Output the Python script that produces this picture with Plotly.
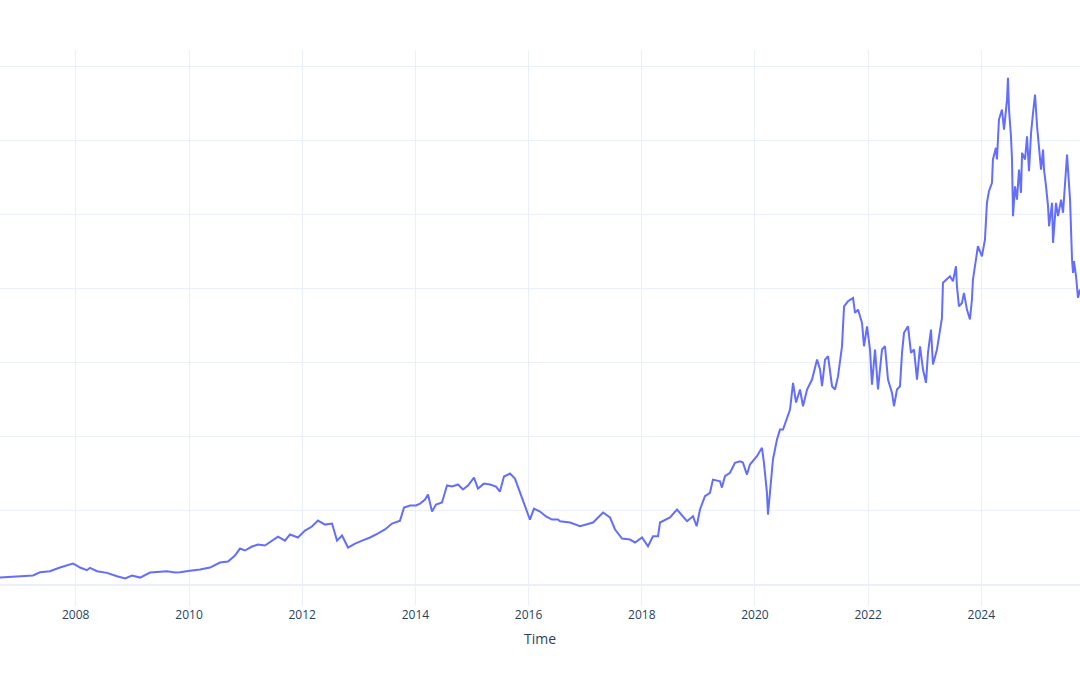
import pandas as pd
import plotly.graph_objects as go

# Time stamps as decimal years
years = [
    2006.661, 2006.926, 2007.244, 2007.368, 2007.544, 2007.721, 2007.845, 2007.951,
    2008.021, 2008.074, 2008.198, 2008.251, 2008.375, 2008.551, 2008.728, 2008.870,
    2008.993, 2009.135, 2009.311, 2009.488, 2009.612, 2009.753, 2009.841, 2010.018,
    2010.195, 2010.371, 2010.548, 2010.689, 2010.813, 2010.901, 2010.990, 2011.113,
    2011.219, 2011.343, 2011.467, 2011.573, 2011.696, 2011.785, 2011.926, 2012.050,
    2012.173, 2012.279, 2012.403, 2012.527, 2012.615, 2012.703, 2012.809, 2012.933,
    2013.057, 2013.198, 2013.340, 2013.463, 2013.587, 2013.728, 2013.799, 2013.905,
    2014.011, 2014.082, 2014.170, 2014.223, 2014.294, 2014.364, 2014.470, 2014.559,
    2014.647, 2014.753, 2014.841, 2014.930, 2015.036, 2015.106, 2015.212, 2015.318,
    2015.424, 2015.495, 2015.566, 2015.672, 2015.760, 2015.831, 2015.884, 2015.954,
    2016.025, 2016.096, 2016.202, 2016.308, 2016.414, 2016.520, 2016.555, 2016.732,
    2016.908, 2017.138, 2017.315, 2017.438, 2017.527, 2017.651, 2017.792, 2017.880,
    2018.004, 2018.110, 2018.198, 2018.287, 2018.322, 2018.499, 2018.622, 2018.799,
    2018.905, 2018.970, 2019.029, 2019.117, 2019.205, 2019.258, 2019.382, 2019.417,
    2019.470, 2019.559, 2019.647, 2019.735, 2019.788, 2019.859, 2019.912, 2020.036,
    2020.124, 2020.159, 2020.212, 2020.230, 2020.265, 2020.318, 2020.389, 2020.442,
    2020.495, 2020.566, 2020.619, 2020.672, 2020.725, 2020.795, 2020.848, 2020.919,
    2021.007, 2021.096, 2021.149, 2021.184, 2021.237, 2021.290, 2021.361, 2021.414,
    2021.467, 2021.537, 2021.573, 2021.643, 2021.732, 2021.767, 2021.820, 2021.891,
    2021.926, 2021.979, 2022.032, 2022.067, 2022.121, 2022.173, 2022.244, 2022.297,
    2022.350, 2022.421, 2022.456, 2022.509, 2022.562, 2022.598, 2022.633, 2022.704,
    2022.757, 2022.810, 2022.863, 2022.916, 2022.969, 2023.022, 2023.057, 2023.110,
    2023.145, 2023.216, 2023.269, 2023.304, 2023.322, 2023.393, 2023.446, 2023.499,
    2023.552, 2023.569, 2023.605, 2023.658, 2023.693, 2023.746, 2023.799, 2023.834,
    2023.852, 2023.905, 2023.940, 2024.011, 2024.064, 2024.099, 2024.135, 2024.188,
    2024.205, 2024.258, 2024.276, 2024.311, 2024.364, 2024.400, 2024.453, 2024.470,
    2024.488, 2024.523, 2024.541, 2024.559, 2024.594, 2024.629, 2024.665, 2024.700,
    2024.718, 2024.771, 2024.806, 2024.841, 2024.877, 2024.912, 2024.947, 2024.983,
    2025.018, 2025.053, 2025.089, 2025.106, 2025.142, 2025.177, 2025.195, 2025.248,
    2025.265, 2025.318, 2025.354, 2025.407, 2025.442, 2025.477, 2025.513, 2025.530,
    2025.566, 2025.601, 2025.619, 2025.636, 2025.672, 2025.707, 2025.742,
]

values = [
    4.9, 5.6, 6.3, 8.5, 9.2, 11.7, 13.0, 14.4,
    13.0, 11.7, 9.9, 11.5, 9.2, 8.1, 5.8, 4.3,
    6.3, 4.9, 8.3, 9.0, 9.2, 8.3, 8.5, 9.5,
    10.3, 11.7, 15.1, 15.7, 19.8, 24.5, 23.2, 25.9,
    27.2, 26.6, 29.9, 32.6, 29.9, 34.0, 32.0, 36.7,
    39.4, 43.4, 40.7, 41.4, 29.9, 33.3, 25.2, 27.9,
    29.9, 32.0, 34.7, 37.4, 41.4, 43.4, 52.2, 53.6,
    53.6, 54.9, 57.6, 61.0, 49.5, 54.3, 55.6, 67.1,
    66.4, 67.8, 64.4, 67.1, 72.5, 65.1, 68.4, 67.8,
    66.4, 63.0, 73.2, 75.2, 71.8, 64.4, 59.0, 50.9,
    44.1, 51.5, 49.5, 46.2, 44.1, 44.1, 43.0, 42.1,
    39.6, 42.1, 48.9, 45.5, 37.4, 31.3, 30.6, 28.6,
    32.0, 26.1, 32.8, 32.8, 42.1, 45.5, 50.9, 43.0,
    46.4, 39.6, 50.9, 59.9, 62.2, 71.1, 70.0, 65.7,
    73.4, 75.7, 82.4, 83.5, 82.6, 74.5, 81.3, 86.9,
    92.6, 82.6, 62.2, 47.5, 64.4, 84.7, 98.2, 104.9,
    104.9, 112.8, 118.4, 136.5, 123.2, 132.0, 120.7, 132.0,
    138.7, 152.2, 145.5, 134.2, 152.2, 154.5, 134.2, 132.0,
    141.0, 161.2, 188.2, 191.6, 193.9, 183.8, 186.0, 177.0,
    161.2, 174.7, 159.0, 135.3, 159.0, 132.0, 159.0, 161.2,
    138.7, 129.7, 120.7, 132.0, 134.2, 156.8, 170.3, 174.7,
    156.8, 159.0, 138.7, 161.2, 145.5, 136.5, 156.8, 172.5,
    148.9, 159.0, 170.3, 180.4, 204.1, 206.3, 208.5, 205.1,
    215.3, 201.8, 188.2, 190.5, 197.3, 186.0, 179.3, 192.8,
    206.3, 219.8, 228.8, 222.0, 233.3, 258.1, 266.0, 271.6,
    287.4, 295.3, 287.4, 314.4, 321.2, 307.6, 327.9, 342.6,
    321.2, 303.1, 287.4, 249.1, 269.3, 260.3, 280.6, 264.9,
    291.9, 287.4, 303.1, 279.5, 305.4, 318.9, 331.3, 309.9,
    296.4, 280.6, 294.1, 280.6, 269.3, 255.8, 242.3, 258.1,
    231.1, 258.1, 249.1, 260.3, 251.4, 273.9, 290.8, 280.6,
    260.3, 219.8, 210.8, 218.7, 208.5, 193.9, 199.5,
]


def to_date(t):
    y = int(t)
    start = pd.Timestamp(year=y, month=1, day=1)
    end = pd.Timestamp(year=y + 1, month=1, day=1)
    return start + (end - start) * (t - y)


dates = [to_date(t) for t in years]

fig = go.Figure(
    go.Scatter(
        x=dates,
        y=values,
        mode="lines",
        line=dict(color="#636efa", width=2),
        showlegend=False,
    )
)

fig.update_layout(
    template="plotly_white",
    width=1080,
    height=675,
    margin=dict(l=0, r=0, t=50, b=69),
    xaxis=dict(title=dict(text="Time", standoff=12)),
    yaxis=dict(range=[-14.3, 361.4], dtick=50, showticklabels=False),
)

fig.write_html(
    "out.html",
    config={"displayModeBar": False},
    post_script="document.body.style.margin='0';document.body.style.padding='0';",
)
